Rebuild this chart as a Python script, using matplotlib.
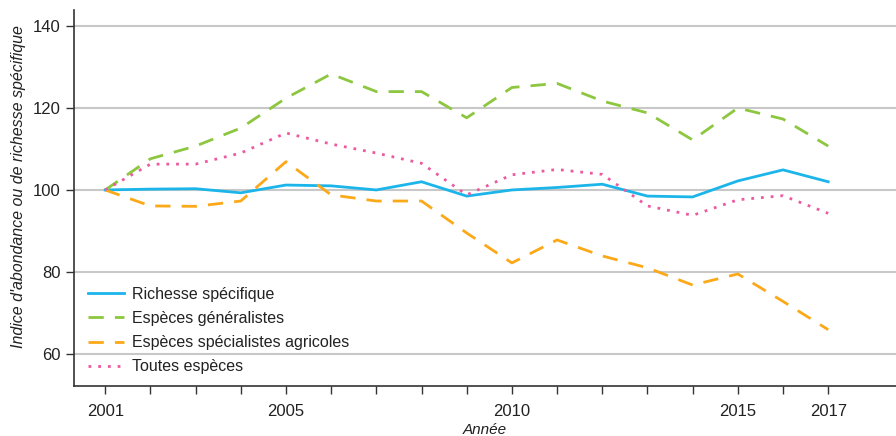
import matplotlib.pyplot as plt
import numpy as np

plt.rcParams['font.family'] = ['Liberation Sans Narrow', 'Liberation Sans', 'DejaVu Sans']

annees = np.arange(2001, 2018)
richesse = [100, 100.2, 100.3, 99.3, 101.2, 101, 100, 102, 98.5, 100, 100.6, 101.4, 98.5, 98.3, 102.2, 104.9, 102]
generalistes = [100, 107.6, 110.7, 115.1, 122.4, 128.3, 124, 124, 117.6, 125, 126, 121.7, 118.8, 112.2, 120, 117.3, 110.7]
specialistes = [100, 96.1, 96, 97.3, 106.9, 98.8, 97.3, 97.3, 89.5, 82.2, 87.8, 83.9, 81, 76.8, 79.5, 72.8, 65.9]
toutes = [100, 106.3, 106.3, 109, 113.9, 111.2, 109, 106.5, 98.8, 103.7, 105, 103.8, 96.1, 93.8, 97.6, 98.6, 94.3]
annees_lab = [2001, 2005, 2010, 2015, 2017]

fig = plt.figure(figsize=(8.96, 4.36), dpi=100)
ax = fig.add_axes([0.0826, 0.115, 0.9174, 0.862])

for v in [60, 80, 100, 120, 140]:
    ax.axhline(v, color='#c8c8c8', lw=1.5, zorder=0)

ax.plot(annees, richesse, color='#1cb5ea', lw=2, label='Richesse spécifique')
ax.plot(annees, generalistes, color='#8dc63f', lw=2, dashes=(5.5, 4), label='Espèces généralistes')
ax.plot(annees, specialistes, color='#fba919', lw=2, dashes=(5.5, 4), label='Espèces spécialistes agricoles')
ax.plot(annees, toutes, color='#ec5aa0', lw=2, dashes=(1, 2.5), label='Toutes espèces')

ax.set_xlim(2000.31, 2018.5)
ax.set_ylim(52.2, 143.9)
ax.set_yticks([60, 80, 100, 120, 140])
ax.set_xticks(annees)
ax.set_xticklabels([str(a) if a in annees_lab else '' for a in annees])
ax.tick_params(axis='both', labelsize=12, color='#333333', labelcolor='#222222', length=6, width=1)
ax.tick_params(axis='x', pad=7)

for s in ['top', 'right']:
    ax.spines[s].set_visible(False)
for s in ['left', 'bottom']:
    ax.spines[s].set_color('#333333')
    ax.spines[s].set_linewidth(1.2)

ax.set_ylabel("Indice d'abondance ou de richesse spécifique", fontsize=11.5, style='italic', color='#222222')
ax.yaxis.set_label_coords(-0.058, 0.53)
ax.set_xlabel('Année', fontsize=11, style='italic', color='#222222', labelpad=3)

ax.legend(loc='lower left', bbox_to_anchor=(0.0, -0.008), frameon=False, fontsize=11.5,
          handlelength=2.25, handletextpad=0.45, labelspacing=0.58, labelcolor='#222222')

fig.savefig('out.png', dpi=100)
